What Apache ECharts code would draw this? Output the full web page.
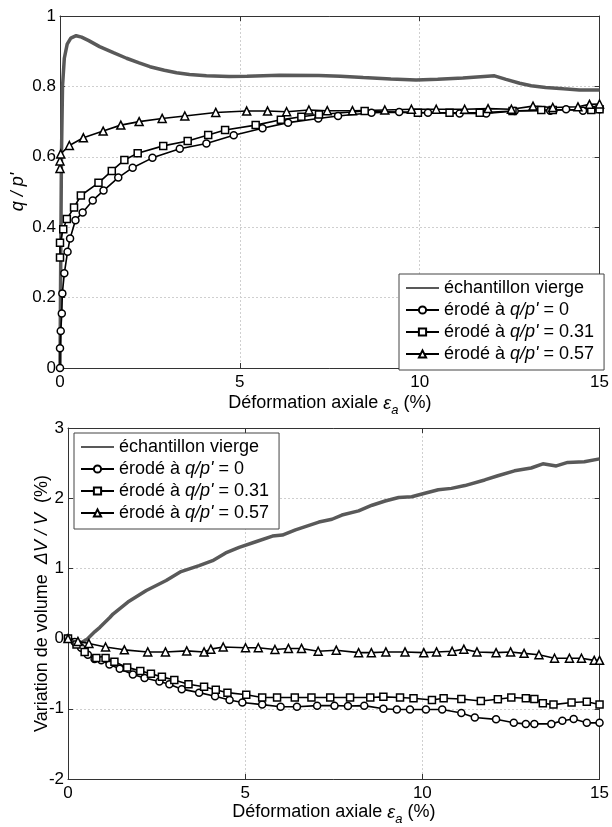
<!DOCTYPE html>
<html>
<head>
<meta charset="utf-8">
<script src="https://cdn.jsdelivr.net/npm/echarts@6/dist/echarts.min.js"></script>
<style>html,body{margin:0;padding:0;background:#fff}#c{width:612px;height:827px}</style>
</head>
<body>
<div id="c"></div>
<script>
// ---------- DATA ----------
const seriesNames = ['échantillon vierge', "érodé à q/p' = 0", "érodé à q/p' = 0.31", "érodé à q/p' = 0.57"];
const xTicksTop = [0, 5, 10, 15];
// Top panel: q/p' vs axial strain
const topVierge = [[0,0],[0.02,0.3],[0.04,0.6],[0.07,0.8],[0.12,0.88],[0.2,0.92],[0.3,0.937],[0.45,0.944],[0.6,0.94],[0.8,0.93],[1.1,0.913],[1.5,0.895],[1.85,0.88],[2.2,0.867],[2.5,0.856],[2.9,0.846],[3.24,0.839],[3.6,0.834],[4.07,0.83],[4.7,0.828],[5.2,0.829],[6.1,0.832],[7.2,0.831],[7.8,0.829],[8.43,0.825],[9.2,0.821],[9.9,0.818],[10.5,0.82],[11.2,0.824],[12.08,0.83],[12.4,0.82],[12.78,0.809],[13.1,0.802],[13.5,0.797],[14,0.793],[14.44,0.79],[15,0.79]];
const topQ0 = [[0,0],[0,0.056],[0.02,0.105],[0.05,0.155],[0.065,0.212],[0.12,0.269],[0.21,0.33],[0.28,0.368],[0.43,0.42],[0.63,0.442],[0.91,0.476],[1.21,0.504],[1.62,0.541],[2.02,0.569],[2.57,0.597],[3.33,0.623],[4.07,0.638],[4.83,0.661],[5.63,0.681],[6.34,0.697],[7.18,0.709],[7.73,0.716],[8.66,0.725],[9.43,0.727],[10.23,0.725],[11.11,0.723],[11.85,0.723],[12.64,0.73],[13.63,0.731],[14.07,0.735],[14.54,0.731],[15,0.735]];
const topQ031 = [[0,0.314],[0,0.356],[0.09,0.394],[0.19,0.423],[0.39,0.456],[0.58,0.49],[1.07,0.526],[1.44,0.56],[1.79,0.591],[2.16,0.61],[2.87,0.631],[3.55,0.645],[4.12,0.662],[4.59,0.676],[5.44,0.69],[6.14,0.705],[6.71,0.714],[7.2,0.72],[8.47,0.73],[9.95,0.725],[10.83,0.725],[11.67,0.725],[12.58,0.73],[13.38,0.733],[13.7,0.733],[14.77,0.733],[15,0.735]];
const topQ057 = [[0,0.567],[0,0.588],[0.02,0.608],[0.26,0.632],[0.65,0.654],[1.2,0.673],[1.69,0.69],[2.2,0.7],[2.84,0.709],[3.47,0.716],[4.33,0.726],[5.19,0.73],[5.77,0.73],[6.3,0.728],[6.92,0.733],[7.43,0.731],[8.13,0.731],[9.03,0.733],[9.77,0.735],[10.46,0.735],[11.25,0.735],[11.9,0.737],[12.55,0.735],[13.15,0.744],[13.7,0.74],[14.4,0.742],[14.72,0.749],[15,0.75]];
// Bottom panel: volumetric strain vs axial strain
const botVierge = [[0,0],[0.15,-0.04],[0.33,-0.07],[0.54,-0.01],[0.76,0.1],[0.9,0.16],[1.18,0.3],[1.27,0.35],[1.69,0.52],[2.21,0.685],[2.77,0.827],[3.19,0.955],[3.7,1.04],[4.08,1.11],[4.45,1.22],[4.83,1.3],[5.3,1.38],[5.77,1.46],[6.05,1.475],[6.42,1.55],[7.08,1.66],[7.45,1.7],[7.73,1.76],[8.2,1.82],[8.58,1.9],[8.95,1.96],[9.33,2.01],[9.7,2.02],[10.07,2.07],[10.45,2.12],[10.82,2.14],[11.2,2.18],[11.76,2.26],[12.13,2.32],[12.6,2.39],[13.07,2.43],[13.4,2.49],[13.78,2.46],[14.1,2.51],[14.57,2.52],[15,2.56]];
const botQ0 = [[0,0],[0.19,-0.05],[0.37,-0.13],[0.56,-0.23],[0.75,-0.29],[0.94,-0.31],[1.17,-0.37],[1.46,-0.43],[1.83,-0.51],[2.16,-0.56],[2.58,-0.61],[2.86,-0.65],[3.21,-0.72],[3.7,-0.77],[4.15,-0.82],[4.56,-0.875],[4.92,-0.91],[5.48,-0.94],[6,-0.97],[6.46,-0.97],[7.03,-0.955],[7.52,-0.955],[7.9,-0.96],[8.36,-0.955],[8.9,-1.0],[9.28,-1.01],[9.65,-1.01],[10.1,-1.01],[10.56,-1.01],[11.1,-1.06],[11.48,-1.125],[12.08,-1.15],[12.58,-1.2],[12.92,-1.215],[13.16,-1.215],[13.64,-1.215],[13.95,-1.17],[14.27,-1.145],[14.64,-1.2],[15,-1.2]];
const botQ031 = [[0,0],[0.24,-0.085],[0.47,-0.19],[0.8,-0.275],[1.06,-0.275],[1.31,-0.33],[1.67,-0.41],[2.04,-0.46],[2.34,-0.5],[2.65,-0.545],[3.0,-0.59],[3.4,-0.65],[3.84,-0.685],[4.17,-0.73],[4.5,-0.77],[5.03,-0.8],[5.48,-0.84],[5.9,-0.84],[6.4,-0.84],[6.87,-0.84],[7.4,-0.84],[7.96,-0.84],[8.53,-0.84],[8.9,-0.83],[9.37,-0.84],[9.75,-0.85],[10.27,-0.875],[10.6,-0.85],[11.1,-0.86],[11.65,-0.89],[12.13,-0.865],[12.51,-0.84],[12.92,-0.85],[13.16,-0.86],[13.4,-0.92],[13.7,-0.94],[14.21,-0.91],[14.64,-0.9],[15,-0.94]];
const botQ057 = [[0,0],[0.28,-0.04],[0.59,-0.07],[1.06,-0.12],[1.59,-0.16],[2.25,-0.19],[2.75,-0.19],[3.35,-0.175],[3.84,-0.19],[4.03,-0.15],[4.38,-0.12],[5.01,-0.13],[5.37,-0.13],[5.84,-0.155],[6.22,-0.14],[6.59,-0.14],[7.06,-0.18],[7.57,-0.165],[8.2,-0.2],[8.56,-0.2],[8.97,-0.19],[9.51,-0.19],[10.04,-0.2],[10.4,-0.19],[10.84,-0.18],[11.17,-0.15],[11.54,-0.19],[12.08,-0.2],[12.49,-0.19],[12.87,-0.21],[13.29,-0.23],[13.73,-0.28],[14.15,-0.28],[14.49,-0.28],[14.85,-0.31],[15,-0.31]];

// ---------- CHART ----------
const FONT = 'Liberation Sans, Arial, Helvetica, sans-serif';
const AX = '#333';
const chart = echarts.init(document.getElementById('c'), null, {renderer: 'canvas'});

function mainX(gi, gap) {
  return {
    type: 'value', gridIndex: gi, min: 0, max: 15, interval: 5, position: 'bottom',
    name: 'Déformation axiale {e|ε}{s|a} (%)', nameLocation: 'middle', nameGap: gap, nameMoveOverlap: false,
    nameTextStyle: {fontFamily: FONT, fontSize: 18, color: '#000',
      rich: {e: {fontFamily: FONT, fontSize: 18, fontStyle: 'italic', color: '#000'},
             s: {fontFamily: FONT, fontSize: 13, fontStyle: 'italic', color: '#000', padding: [14, 0, 0, 0]}}},
    axisLine: {show: true, onZero: false, lineStyle: {color: AX, width: 1}},
    axisTick: {show: true, inside: true, length: 5, lineStyle: {color: AX}},
    axisLabel: {fontFamily: FONT, fontSize: 17, color: '#000', margin: 6, showMinLabel: true, showMaxLabel: true},
    splitLine: {show: true, lineStyle: {color: '#cfcfcf', type: [2, 2], width: 1}}
  };
}
function secX(gi) {
  return {type: 'value', gridIndex: gi, min: 0, max: 15, interval: 5, position: 'top',
    axisLine: {show: true, onZero: false, lineStyle: {color: AX, width: 1}},
    axisTick: {show: true, inside: true, length: 5, lineStyle: {color: AX}},
    axisLabel: {show: false}, splitLine: {show: false}};
}
function mainY(gi, min, max, interval, name, gap, italic, rich) {
  return {
    type: 'value', gridIndex: gi, min: min, max: max, interval: interval, position: 'left',
    name: name, nameLocation: 'middle', nameGap: gap, nameMoveOverlap: false,
    nameTextStyle: {fontFamily: FONT, fontSize: 18, color: '#000', fontStyle: italic ? 'italic' : 'normal', rich: rich},
    axisLine: {show: true, onZero: false, lineStyle: {color: AX, width: 1}},
    axisTick: {show: true, inside: true, length: 5, lineStyle: {color: AX}},
    axisLabel: {fontFamily: FONT, fontSize: 17, color: '#000', margin: 4, showMinLabel: true, showMaxLabel: true},
    splitLine: {show: true, lineStyle: {color: '#cfcfcf', type: [2, 2], width: 1}}
  };
}
function secY(gi, min, max, interval) {
  return {type: 'value', gridIndex: gi, min: min, max: max, interval: interval, position: 'right',
    axisLine: {show: true, onZero: false, lineStyle: {color: AX, width: 1}},
    axisTick: {show: true, inside: true, length: 5, lineStyle: {color: AX}},
    axisLabel: {show: false}, splitLine: {show: false}};
}
const symbols = [null, 'circle', 'rect', 'triangle'];
function mkSeries(idx, data, xi, yi) {
  if (idx === 0) {
    return {name: seriesNames[0], type: 'line', xAxisIndex: xi, yAxisIndex: yi, data: data,
      symbol: 'none', lineStyle: {color: '#595959', width: 3.5}, itemStyle: {color: '#595959'}, z: 2};
  }
  return {name: seriesNames[idx], type: 'line', xAxisIndex: xi, yAxisIndex: yi, data: data,
    symbol: symbols[idx], symbolSize: idx === 3 ? 8 : 7,
    lineStyle: {color: '#000', width: 1.6},
    itemStyle: {color: '#fff', borderColor: '#000', borderWidth: 1.5}, z: 3};
}
function legendFmt(name) {
  const m = name.match(/^érodé à q\/p' = (.*)$/);
  if (m) return "{n|érodé à }{i|q/p'}{n| = " + m[1] + "}";
  return '{n|' + name + '}';
}
function mkLegend(left, top) {
  return {orient: 'vertical', left: left, top: top,
    data: seriesNames.map(function (n, i) { return i === 0 ? {name: n, itemStyle: {opacity: 0}} : {name: n}; }),
    backgroundColor: '#fff', borderColor: '#444', borderWidth: 1, borderRadius: 0,
    padding: [5, 10, 7, 6], itemGap: 4, itemWidth: 33, itemHeight: 9,
    formatter: legendFmt, selectedMode: false,
    textStyle: {fontFamily: FONT, fontSize: 18, color: '#000',
      rich: {n: {fontFamily: FONT, fontSize: 18, color: '#000'},
             i: {fontFamily: FONT, fontSize: 18, fontStyle: 'italic', color: '#000'}}}};
}

chart.setOption({
  animation: false,
  backgroundColor: '#fff',
  grid: [
    {left: 60, top: 16, width: 541, height: 352, containLabel: false},
    {left: 68, top: 428, width: 534, height: 353, containLabel: false}
  ],
  legend: [mkLegend(399, 274), mkLegend(74, 433)],
  xAxis: [mainX(0, 22), secX(0), mainX(1, 20), secX(1)],
  yAxis: [
    mainY(0, 0, 1, 0.2, "q / p'", 33, true, {}),
    secY(0, 0, 1, 0.2),
    mainY(1, -2, 3, 1, 'Variation de volume  {i|ΔV / V}  (%)', 17, false,
      {i: {fontFamily: FONT, fontSize: 18, fontStyle: 'italic', color: '#000'}}),
    secY(1, -2, 3, 1)
  ],
  series: [
    mkSeries(0, topVierge, 0, 0), mkSeries(1, topQ0, 0, 0), mkSeries(2, topQ031, 0, 0), mkSeries(3, topQ057, 0, 0),
    mkSeries(0, botVierge, 2, 2), mkSeries(1, botQ0, 2, 2), mkSeries(2, botQ031, 2, 2), mkSeries(3, botQ057, 2, 2)
  ]
});
</script>
</body>
</html>
